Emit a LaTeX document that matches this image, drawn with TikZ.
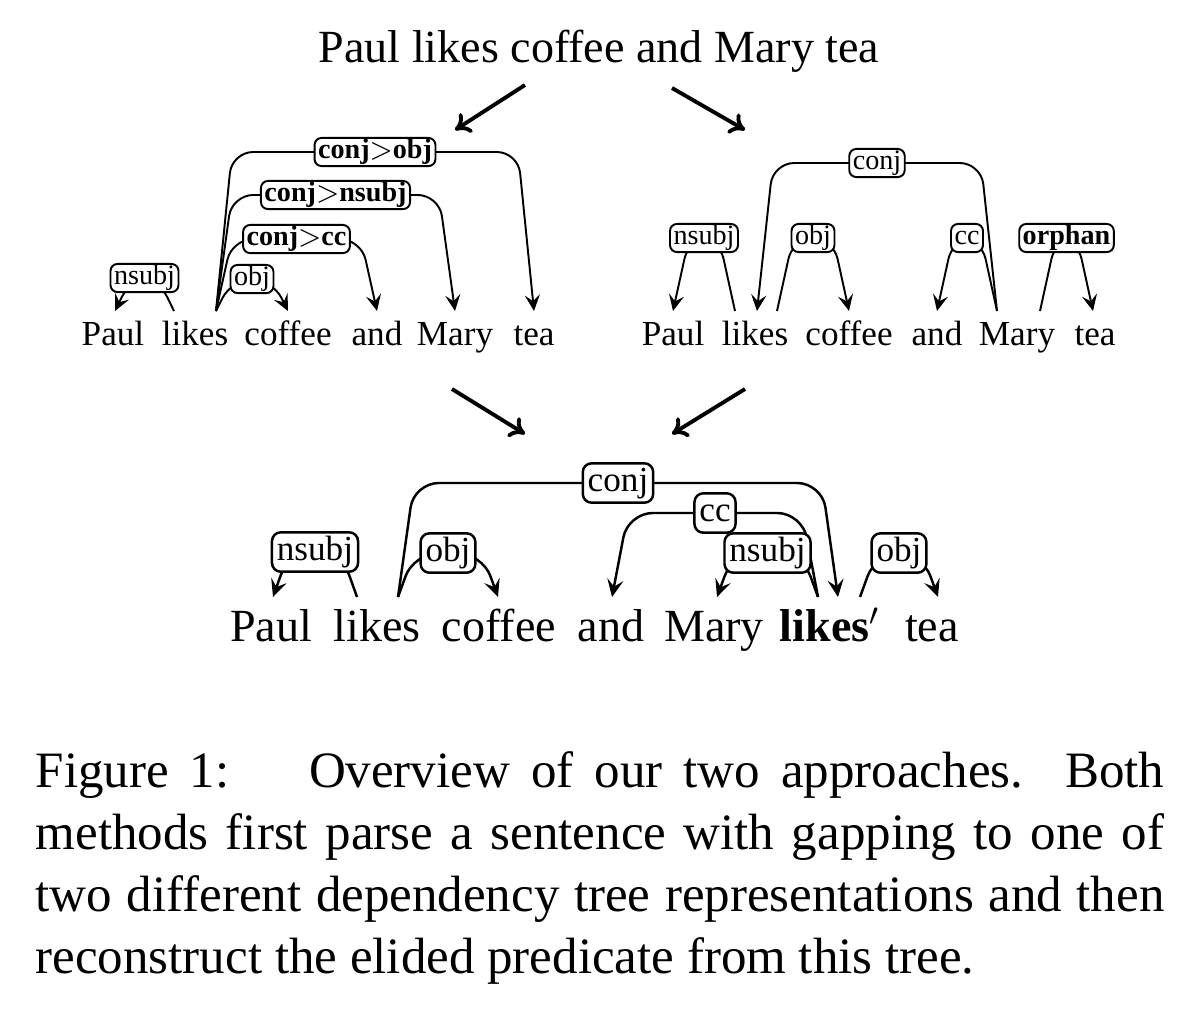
\documentclass[tikz,border=0pt]{standalone}
\usepackage{fontspec}
\setmainfont{Liberation Serif}
\usetikzlibrary{arrows.meta,calc}

\begin{document}
\begin{tikzpicture}[
    x=0.01cm, y=-0.01cm,
    >={Stealth[length=4.6pt,width=4.3pt,inset=1.8pt]},
    word/.style={anchor=base, inner sep=0pt, font=\fontsize{10}{12}\selectfont},
    bigword/.style={anchor=base, inner sep=0pt, font=\fontsize{13.1}{15.6}\selectfont},
    lbl/.style={draw, fill=white, rounded corners=2pt, inner xsep=1pt, inner ysep=0.3pt,
        text height=5.6pt, text depth=1.8pt, font=\fontsize{8}{9.6}\selectfont},
    biglbl/.style={draw, fill=white, rounded corners=2.5pt, inner xsep=1.4pt, inner ysep=1pt,
        text height=7pt, text depth=2.2pt, font=\fontsize{10}{12}\selectfont},
    dep/.style={->, line width=0.55pt, rounded corners=6pt},
    bigdep/.style={-{Stealth[length=5pt,width=4.6pt,inset=2pt]}, line width=0.7pt, rounded corners=7pt},
    flow/.style={-{To[length=4.2pt,width=6.5pt]}, line width=1.1pt}
]
    \useasboundingbox (0,0) rectangle (1200,1011);

    % input sentence
    \node[bigword] (sent) at (599,62) {Paul likes coffee and Mary tea};

    \coordinate (splitl) at (525,85);
    \coordinate (splitlend) at (455,130);
    \coordinate (splitr) at (672,88);
    \coordinate (splitrend) at (745,130);
    \draw[flow] (splitl) -- (splitlend);
    \draw[flow] (splitr) -- (splitrend);

    % left tree
    \node[word] (lpaul) at (113,345) {Paul};
    \node[word] (llikes) at (195,345) {likes};
    \node[word] (lcoffee) at (288,345) {coffee};
    \node[word] (land) at (377,345) {and};
    \node[word] (lmary) at (455,345) {Mary};
    \node[word] (ltea) at (534,345) {tea};

    \draw[dep] ($(llikes.base)+(21,-34)$) -- ++(16,-159)
        -- node[lbl] {\textbf{conj}$>$\textbf{obj}} ($(ltea.base)+(-16,-193)$)
        -- ($(ltea.base)+(0,-34)$);
    \draw[dep] ($(llikes.base)+(21,-34)$) -- ++(16,-116)
        -- node[lbl] {\textbf{conj}$>$\textbf{nsubj}} ($(lmary.base)+(-16,-150)$)
        -- ($(lmary.base)+(0,-34)$);
    \draw[dep] ($(llikes.base)+(21,-34)$) -- ++(16,-72)
        -- node[lbl] {\textbf{conj}$>$\textbf{cc}} ($(land.base)+(-16,-106)$)
        -- ($(land.base)+(0,-34)$);
    \draw[dep] ($(llikes.base)+(21,-34)$) -- ++(16,-32)
        -- node[lbl] {obj} ($(lcoffee.base)+(-16,-66)$)
        -- ($(lcoffee.base)+(0,-34)$);
    \draw[dep] ($(llikes.base)+(-21,-34)$) -- ++(-16,-33)
        -- node[lbl] {nsubj} ($(lpaul.base)+(18,-67)$)
        -- ($(lpaul.base)+(2,-34)$);

    % right tree
    \node[word] (rpaul) at (673,345) {Paul};
    \node[word] (rlikes) at (755,345) {likes};
    \node[word] (rcoffee) at (849,345) {coffee};
    \node[word] (rand) at (937,345) {and};
    \node[word] (rmary) at (1017,345) {Mary};
    \node[word] (rtea) at (1095,345) {tea};

    \draw[dep] ($(rmary.base)+(-20,-34)$) -- ++(-16,-148)
        -- node[lbl] {conj} ($(rlikes.base)+(18,-182)$)
        -- ($(rlikes.base)+(2,-34)$);
    \draw[dep] ($(rlikes.base)+(-20,-34)$) -- ++(-16,-73)
        -- node[lbl] {nsubj} ($(rpaul.base)+(16,-107)$)
        -- ($(rpaul.base)+(0,-34)$);
    \draw[dep] ($(rlikes.base)+(22,-34)$) -- ++(16,-73)
        -- node[lbl] {obj} ($(rcoffee.base)+(-16,-107)$)
        -- ($(rcoffee.base)+(0,-34)$);
    \draw[dep] ($(rmary.base)+(-20,-34)$) -- ++(-16,-73)
        -- node[lbl] {cc} ($(rand.base)+(16,-107)$)
        -- ($(rand.base)+(0,-34)$);
    \draw[dep] ($(rmary.base)+(23,-34)$) -- ++(16,-73)
        -- node[lbl] {\textbf{orphan}} ($(rtea.base)+(-18,-107)$)
        -- ($(rtea.base)+(-2,-34)$);

    \coordinate (mergel) at (452,389);
    \coordinate (mergelend) at (525,434);
    \coordinate (merger) at (745,389);
    \coordinate (mergerend) at (672,434);
    \draw[flow] (mergel) -- (mergelend);
    \draw[flow] (merger) -- (mergerend);

    % reconstructed tree
    \node[bigword] (bpaul) at (271,641) {Paul};
    \node[bigword] (blikes) at (377,641) {likes};
    \node[bigword] (bcoffee) at (499,641) {coffee};
    \node[bigword] (band) at (611,641) {and};
    \node[bigword] (bmary) at (714,641) {Mary};
    \node[bigword] (blikesb) at (830,641) {\textbf{likes}$'$};
    \node[bigword] (btea) at (932,641) {tea};

    \draw[bigdep] ($(blikes.base)+(21,-44)$) -- ++(16,-114)
        -- node[biglbl] {conj} ($(blikesb.base)+(-8,-158)$)
        -- ($(blikesb.base)+(8,-44)$);
    \draw[bigdep] ($(blikesb.base)+(-12,-44)$) -- ++(-16,-84)
        -- node[biglbl] {cc} ($(band.base)+(17,-128)$)
        -- ($(band.base)+(1,-44)$);
    \draw[bigdep] ($(blikes.base)+(-20,-44)$) -- ++(-16,-45)
        -- node[biglbl] {nsubj} ($(bpaul.base)+(18,-89)$)
        -- ($(bpaul.base)+(2,-44)$);
    \draw[bigdep] ($(blikes.base)+(21,-44)$) -- ++(16,-44)
        -- node[biglbl] {obj} ($(bcoffee.base)+(-17,-88)$)
        -- ($(bcoffee.base)+(-1,-44)$);
    \draw[bigdep] ($(blikesb.base)+(-12,-44)$) -- ++(-16,-44)
        -- node[biglbl] {nsubj} ($(bmary.base)+(19,-88)$)
        -- ($(bmary.base)+(3,-44)$);
    \draw[bigdep] ($(blikesb.base)+(30,-44)$) -- ++(16,-44)
        -- node[biglbl] {obj} ($(btea.base)+(-10,-88)$)
        -- ($(btea.base)+(6,-44)$);

    % caption
    \node[anchor=north west, inner sep=0pt, text width=11.28cm, align=justify,
        font=\fontsize{14.5}{17.6}\selectfont] (caption) at (35,751)
        {Figure~1:\hspace{0.9em} Overview of our two approaches. Both\linebreak
        methods first parse a sentence with gapping to one of\linebreak
        two different dependency tree representations and then\linebreak
        reconstruct the elided predicate from this tree.};
\end{tikzpicture}
\end{document}
